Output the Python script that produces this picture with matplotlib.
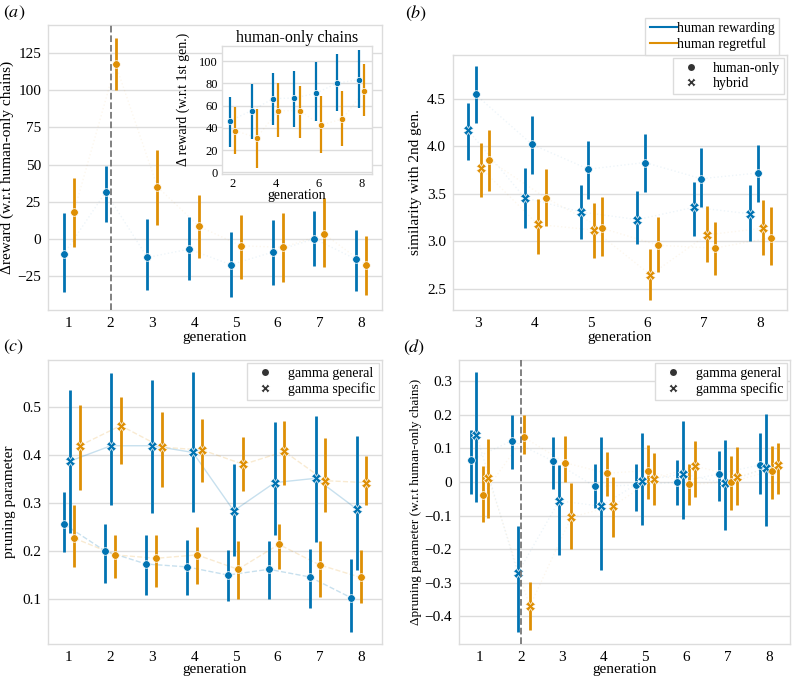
import matplotlib
matplotlib.use("Agg")
import matplotlib.pyplot as plt
from matplotlib.lines import Line2D
import numpy as np

plt.rcParams['font.family'] = ['Liberation Serif', 'DejaVu Serif']
plt.rcParams['mathtext.fontset'] = 'stix'

BLUE = '#0173b2'
ORANGE = '#de8f05'
GRID = '#dcdcdc'

gens = np.arange(1, 9)
gens_b = np.arange(3, 9)
gens_inset = np.arange(2, 9)

# (a) reward relative to human-only chains: mean, ci low, ci high
a_blue = [-10.3, 31.4, -12.6, -7.0, -17.5, -9.0, 0.0, -13.9]
a_blue_lo = [-36.1, 11.2, -34.3, -28.0, -39.5, -31.0, -18.6, -35.0]
a_blue_hi = [17.3, 49.1, 13.0, 14.4, 4.5, 12.8, 19.0, 6.0]
a_orange = [18.0, 117.4, 35.0, 8.3, -4.7, -5.8, 3.1, -17.7]
a_orange_lo = [-5.4, 100.0, 9.6, -13.0, -27.0, -29.0, -19.3, -38.0]
a_orange_hi = [41.0, 135.3, 60.0, 29.2, 15.7, 17.5, 27.4, 2.0]

# inset: human-only chains, reward w.r.t 1st gen
in_blue = [46.4, 55.4, 66.2, 66.8, 71.0, 80.2, 83.2]
in_blue_lo = [22.5, 30.0, 42.5, 40.7, 46.4, 54.8, 57.8]
in_blue_hi = [67.4, 79.0, 89.2, 91.0, 99.0, 106.3, 110.0]
in_orange = [37.4, 31.1, 55.4, 55.4, 42.5, 47.9, 72.8]
in_orange_lo = [16.5, 3.6, 32.0, 30.5, 17.0, 23.7, 50.6]
in_orange_hi = [58.4, 57.2, 80.2, 77.5, 68.3, 72.8, 97.6]

# (b) similarity with 2nd gen
b_blue_hyb = [4.167, 3.46, 3.31, 3.23, 3.36, 3.29]
b_blue_hyb_lo = [3.86, 3.14, 3.03, 2.97, 3.06, 3.01]
b_blue_hyb_hi = [4.46, 3.77, 3.59, 3.53, 3.63, 3.59]
b_blue_hum = [4.545, 4.02, 3.76, 3.83, 3.66, 3.72]
b_blue_hum_lo = [4.25, 3.71, 3.45, 3.52, 3.36, 3.41]
b_blue_hum_hi = [4.84, 4.32, 4.06, 4.13, 3.98, 4.01]
b_orange_hyb = [3.77, 3.18, 3.12, 2.65, 3.07, 3.14]
b_orange_hyb_lo = [3.47, 2.87, 2.83, 2.39, 2.78, 2.86]
b_orange_hyb_hi = [4.04, 3.45, 3.40, 2.92, 3.37, 3.44]
b_orange_hum = [3.855, 3.46, 3.14, 2.96, 2.93, 3.04]
b_orange_hum_lo = [3.53, 3.16, 2.85, 2.68, 2.65, 2.75]
b_orange_hum_hi = [4.17, 3.76, 3.47, 3.26, 3.20, 3.36]

# (c) pruning parameter
c_blue_gen = [0.255, 0.199, 0.172, 0.166, 0.149, 0.161, 0.145, 0.102]
c_blue_gen_lo = [0.198, 0.133, 0.107, 0.108, 0.094, 0.098, 0.081, 0.030]
c_blue_gen_hi = [0.322, 0.255, 0.232, 0.222, 0.201, 0.220, 0.204, 0.183]
c_blue_spec = [0.387, 0.419, 0.419, 0.405, 0.283, 0.342, 0.351, 0.287]
c_blue_spec_lo = [0.236, 0.296, 0.278, 0.280, 0.189, 0.233, 0.218, 0.159]
c_blue_spec_hi = [0.536, 0.570, 0.556, 0.573, 0.381, 0.468, 0.481, 0.439]
c_orange_gen = [0.226, 0.191, 0.184, 0.191, 0.161, 0.213, 0.170, 0.144]
c_orange_gen_lo = [0.166, 0.143, 0.124, 0.131, 0.100, 0.162, 0.104, 0.091]
c_orange_gen_hi = [0.295, 0.232, 0.232, 0.249, 0.220, 0.256, 0.220, 0.201]
c_orange_spec = [0.419, 0.461, 0.416, 0.410, 0.380, 0.407, 0.346, 0.342]
c_orange_spec_lo = [0.327, 0.381, 0.333, 0.343, 0.325, 0.338, 0.281, 0.296]
c_orange_spec_hi = [0.503, 0.520, 0.490, 0.475, 0.437, 0.471, 0.436, 0.398]

# (d) pruning parameter relative to human-only chains
d_blue_gen = [0.065, 0.123, 0.062, -0.013, -0.009, -0.001, 0.024, 0.051]
d_blue_gen_lo = [-0.035, 0.039, -0.021, -0.078, -0.087, -0.069, -0.056, -0.035]
d_blue_gen_hi = [0.156, 0.198, 0.135, 0.055, 0.053, 0.066, 0.093, 0.147]
d_blue_spec = [0.141, -0.271, -0.056, -0.072, 0.003, 0.024, -0.004, 0.043]
d_blue_spec_lo = [-0.059, -0.447, -0.218, -0.262, -0.128, -0.111, -0.142, -0.130]
d_blue_spec_hi = [0.326, -0.130, 0.052, 0.135, 0.146, 0.181, 0.124, 0.202]
d_orange_gen = [-0.039, 0.133, 0.057, 0.026, 0.034, -0.007, 0.000, 0.034]
d_orange_gen_lo = [-0.119, 0.082, 0.000, -0.041, -0.051, -0.068, -0.082, -0.052]
d_orange_gen_hi = [0.047, 0.198, 0.136, 0.090, 0.110, 0.054, 0.077, 0.108]
d_orange_spec = [0.012, -0.370, -0.105, -0.072, 0.009, 0.048, 0.015, 0.050]
d_orange_spec_lo = [-0.107, -0.440, -0.199, -0.164, -0.069, -0.044, -0.068, -0.035]
d_orange_spec_hi = [0.128, -0.299, -0.003, 0.015, 0.087, 0.123, 0.103, 0.115]


def style_axes(ax):
    ax.set_facecolor('white')
    ax.grid(axis='y', color=GRID, lw=1)
    ax.grid(axis='x', visible=False)
    ax.set_axisbelow(True)
    for s in ax.spines.values():
        s.set_color(GRID)
        s.set_linewidth(1)
    ax.tick_params(length=0, labelsize=11, pad=5)


def series(ax, x, m, lo, hi, color, marker, line_alpha=0.07, ls=':', ms=5.5, lw=2):
    x = np.asarray(x, dtype=float)
    if marker == 'X':
        ms = ms + 1
    ax.plot(x, m, ls=ls, color=color, alpha=line_alpha, lw=1, zorder=2)
    ax.vlines(x, lo, hi, color=color, lw=lw, zorder=3)
    ax.plot(x, m, ls='none', marker=marker, ms=ms, color=color, mec='white',
            mew=0.5, zorder=4)


W, H = 794, 678
fig = plt.figure(figsize=(W / 100, H / 100), dpi=100)


def box(l, r, t, b):
    return [l / W, 1 - b / H, (r - l) / W, (b - t) / H]


leg_kw = dict(fontsize=10, borderpad=0.3, labelspacing=0.15, fancybox=False,
              edgecolor=GRID, borderaxespad=0.2, framealpha=1)

# ---- (a)
ax = fig.add_axes(box(48, 382, 25, 310))
style_axes(ax)
series(ax, gens - 0.12, a_blue, a_blue_lo, a_blue_hi, BLUE, 'o')
series(ax, gens + 0.12, a_orange, a_orange_lo, a_orange_hi, ORANGE, 'o')
ax.axvline(2, color='#777777', ls='--', lw=1.3, zorder=5)
ax.set_xlim(0.5, 8.5)
ax.set_ylim(-48, 144)
ax.set_xticks(gens)
ax.set_yticks([-25, 0, 25, 50, 75, 100, 125])
ax.set_xlabel('generation', fontsize=11, labelpad=1)
ax.set_ylabel('Δreward (w.r.t human-only chains)', fontsize=11, labelpad=2)
fig.text(3 / W, 1 - 13 / H, '$(a)$', fontsize=13, va='center')

ins = fig.add_axes(box(222, 372, 46, 174))
style_axes(ins)
series(ins, gens_inset - 0.12, in_blue, in_blue_lo, in_blue_hi, BLUE, 'o', ms=4.5, lw=1.6)
series(ins, gens_inset + 0.12, in_orange, in_orange_lo, in_orange_hi, ORANGE, 'o', ms=4.5, lw=1.6)
ins.set_xlim(1.5, 8.5)
ins.set_ylim(-1.5, 113.5)
ins.set_xticks([2, 4, 6, 8])
ins.set_yticks([0, 20, 40, 60, 80, 100])
ins.tick_params(labelsize=9, pad=3)
ins.set_xlabel('generation', fontsize=10, labelpad=-1)
ins.set_ylabel('Δ reward (w.r.t 1st gen.)', fontsize=10, labelpad=1)
ins.yaxis.set_label_coords(-0.21, 0.58)
ins.set_title('human-only chains', fontsize=11.5, pad=3)

# ---- (b)
ax = fig.add_axes(box(453, 787, 55, 310))
style_axes(ax)
series(ax, gens_b - 0.18, b_blue_hyb, b_blue_hyb_lo, b_blue_hyb_hi, BLUE, 'X')
series(ax, gens_b - 0.05, b_blue_hum, b_blue_hum_lo, b_blue_hum_hi, BLUE, 'o')
series(ax, gens_b + 0.05, b_orange_hyb, b_orange_hyb_lo, b_orange_hyb_hi, ORANGE, 'X')
series(ax, gens_b + 0.19, b_orange_hum, b_orange_hum_lo, b_orange_hum_hi, ORANGE, 'o')
ax.set_xlim(2.55, 8.47)
ax.set_ylim(2.28, 4.96)
ax.set_xticks(gens_b)
ax.set_yticks([2.5, 3.0, 3.5, 4.0, 4.5])
ax.set_xlabel('generation', fontsize=11, labelpad=1)
ax.set_ylabel('similarity with 2nd gen.', fontsize=11, labelpad=4)
fig.text(405 / W, 1 - 13 / H, '$(b)$', fontsize=13, va='center')

h_col = [Line2D([], [], color=BLUE, lw=1.5), Line2D([], [], color=ORANGE, lw=1.5)]
leg1 = ax.legend(h_col, ['human rewarding', 'human regretful'], loc='lower right',
                 bbox_to_anchor=(0.985, 0.99), handlelength=2, handletextpad=0.0,
                 **leg_kw)
ax.add_artist(leg1)
h_mk = [Line2D([], [], ls='none', marker='o', color='#333333', ms=6, mec='white'),
        Line2D([], [], ls='none', marker='X', color='#333333', ms=6.5, mec='white')]
ax.legend(h_mk, ['human-only', 'hybrid'], loc='upper right', handletextpad=0.6, **leg_kw)

# ---- (c)
ax = fig.add_axes(box(48, 382, 360, 644))
style_axes(ax)
xc = 4.5 + (gens - 4.5) * 0.98
series(ax, xc - 0.18, c_blue_gen, c_blue_gen_lo, c_blue_gen_hi, BLUE, 'o', line_alpha=0.22, ls='--')
series(ax, xc - 0.04, c_blue_spec, c_blue_spec_lo, c_blue_spec_hi, BLUE, 'X', line_alpha=0.22, ls='-')
series(ax, xc + 0.06, c_orange_gen, c_orange_gen_lo, c_orange_gen_hi, ORANGE, 'o', line_alpha=0.18, ls='--')
series(ax, xc + 0.19, c_orange_spec, c_orange_spec_lo, c_orange_spec_hi, ORANGE, 'X', line_alpha=0.18, ls='--')
ax.set_xlim(0.5, 8.5)
ax.set_ylim(0.005, 0.598)
ax.set_xticks(gens)
ax.set_yticks([0.1, 0.2, 0.3, 0.4, 0.5])
ax.set_xlabel('generation', fontsize=11, labelpad=-1)
ax.set_ylabel('pruning parameter', fontsize=11, labelpad=4)
fig.text(3 / W, 1 - 347 / H, '$(c)$', fontsize=13, va='center')
h_g = [Line2D([], [], ls='none', marker='o', color='#333333', ms=6, mec='white'),
       Line2D([], [], ls='none', marker='X', color='#333333', ms=6.5, mec='white')]
ax.legend(h_g, ['gamma general', 'gamma specific'], loc='upper right',
          handletextpad=0.6, **leg_kw)

# ---- (d)
ax = fig.add_axes(box(459, 790, 360, 644))
style_axes(ax)
series(ax, gens - 0.22, d_blue_gen, d_blue_gen_lo, d_blue_gen_hi, BLUE, 'o')
series(ax, gens - 0.08, d_blue_spec, d_blue_spec_lo, d_blue_spec_hi, BLUE, 'X')
series(ax, gens + 0.07, d_orange_gen, d_orange_gen_lo, d_orange_gen_hi, ORANGE, 'o')
series(ax, gens + 0.21, d_orange_spec, d_orange_spec_lo, d_orange_spec_hi, ORANGE, 'X')
ax.axvline(2, color='#777777', ls='--', lw=1.3, zorder=5)
ax.set_xlim(0.5, 8.5)
ax.set_ylim(-0.482, 0.363)
ax.set_xticks(gens)
ax.set_yticks([-0.4, -0.3, -0.2, -0.1, 0, 0.1, 0.2, 0.3])
ax.set_yticklabels(['−0.4', '−0.3', '−0.2', '−0.1', '0', '0.1', '0.2', '0.3'])
ax.set_xlabel('generation', fontsize=11, labelpad=-1)
ax.set_ylabel('Δpruning parameter (w.r.t human-only chains)', fontsize=9.5, labelpad=2)
fig.text(403 / W, 1 - 347 / H, '$(d)$', fontsize=13, va='center')
ax.legend(h_g, ['gamma general', 'gamma specific'], loc='upper right',
          handletextpad=0.6, **leg_kw)

fig.savefig('out.png', dpi=100)
